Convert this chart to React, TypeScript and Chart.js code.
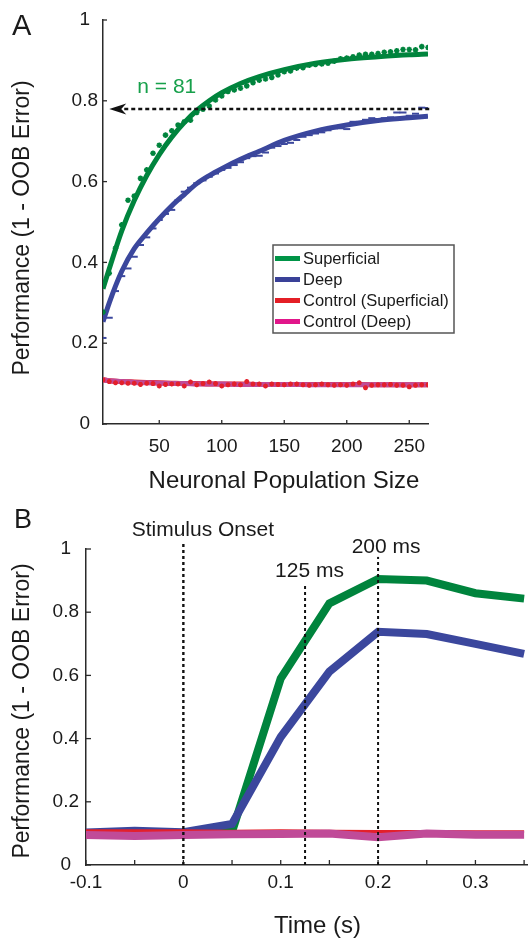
import React, { useEffect, useRef } from "react";
import { Chart, registerables } from "chart.js";

Chart.register(...registerables);

const FONT = '"Liberation Sans", Arial, Helvetica, sans-serif';

// ---------- Panel A data ----------
const populationSizes = [
  5, 10, 15, 20, 25, 30, 35, 40, 45, 50, 55, 60, 65, 70, 75, 80, 85, 90, 95, 100,
  105, 110, 115, 120, 125, 130, 135, 140, 145, 150, 155, 160, 165, 170, 175, 180,
  185, 190, 195, 200, 205, 210, 215, 220, 225, 230, 235, 240, 245, 250, 255, 260, 265,
];
const superficialAccuracy = [
  0.277, 0.373, 0.435, 0.493, 0.554, 0.564, 0.608, 0.629, 0.67, 0.69, 0.715, 0.726,
  0.74, 0.748, 0.752, 0.771, 0.779, 0.787, 0.802, 0.812, 0.823, 0.827, 0.831, 0.837,
  0.845, 0.851, 0.854, 0.858, 0.864, 0.872, 0.874, 0.881, 0.882, 0.888, 0.89, 0.891,
  0.893, 0.898, 0.904, 0.906, 0.909, 0.913, 0.915, 0.915, 0.917, 0.92, 0.921, 0.924,
  0.927, 0.927, 0.926, 0.934, 0.932,
];
const deepAccuracy = [
  0.213, 0.263, 0.329, 0.366, 0.385, 0.414, 0.443, 0.462, 0.484, 0.505, 0.52, 0.53,
  0.554, 0.575, 0.585, 0.596, 0.603, 0.612, 0.62, 0.629, 0.634, 0.641, 0.648, 0.658,
  0.663, 0.664, 0.672, 0.684, 0.688, 0.693, 0.696, 0.703, 0.711, 0.715, 0.719, 0.722,
  0.727, 0.732, 0.732, 0.73, 0.748, 0.748, 0.753, 0.757, 0.755, 0.757, 0.759, 0.771,
  0.771, 0.763, 0.768, 0.783, 0.782,
];
const controlSuperficialAccuracy = [
  0.109, 0.105, 0.102, 0.102, 0.101, 0.101, 0.098, 0.101, 0.1, 0.094, 0.098, 0.099,
  0.099, 0.094, 0.104, 0.097, 0.1, 0.104, 0.1, 0.094, 0.097, 0.099, 0.097, 0.105,
  0.099, 0.099, 0.094, 0.099, 0.098, 0.097, 0.099, 0.099, 0.097, 0.096, 0.097, 0.099,
  0.097, 0.096, 0.097, 0.096, 0.099, 0.102, 0.09, 0.096, 0.097, 0.097, 0.098, 0.096,
  0.096, 0.092, 0.096, 0.097, 0.097,
];
const fitSizes = [5, 10, 20, 30, 40, 50, 60, 70, 80, 90, 100, 115, 130, 150, 175, 200, 225, 250, 265];
const superficialFit = [
  0.335, 0.384, 0.478, 0.553, 0.615, 0.667, 0.71, 0.746, 0.776, 0.8, 0.82, 0.843, 0.86,
  0.877, 0.893, 0.903, 0.909, 0.914, 0.916,
];
const deepFit = [
  0.253, 0.3, 0.378, 0.434, 0.473, 0.508, 0.54, 0.568, 0.595, 0.615, 0.632, 0.655, 0.675,
  0.702, 0.725, 0.74, 0.751, 0.758, 0.762,
];
const controlSuperficialFit = [
  0.11, 0.107, 0.105, 0.104, 0.103, 0.102, 0.101, 0.1, 0.1, 0.099, 0.099, 0.099, 0.098,
  0.098, 0.098, 0.098, 0.097, 0.097, 0.097,
];
const controlDeepFit = [
  0.109, 0.107, 0.105, 0.103, 0.102, 0.101, 0.1, 0.1, 0.099, 0.099, 0.099, 0.098, 0.098,
  0.098, 0.097, 0.097, 0.097, 0.097, 0.097,
];
const sizeTicks = [50, 100, 150, 200, 250];
const performanceTicks = [0, 0.2, 0.4, 0.6, 0.8, 1];
const legendLabels = ["Superficial", "Deep", "Control (Superficial)", "Control (Deep)"];
const arrowLevel = 0.78;
const arrowFrom = 266;
const arrowTo = 10;
const nLabel = "n = 81";

// ---------- Panel B data ----------
const timePoints = [-0.1, -0.05, 0, 0.05, 0.1, 0.15, 0.2, 0.25, 0.3, 0.35];
const superficialTime = [0.1, 0.1, 0.1, 0.105, 0.59, 0.828, 0.905, 0.9, 0.86, 0.843];
const deepTime = [0.103, 0.108, 0.104, 0.13, 0.405, 0.612, 0.738, 0.731, 0.7, 0.668];
const controlSuperficialTime = [0.108, 0.108, 0.108, 0.107, 0.108, 0.107, 0.106, 0.106, 0.105, 0.105];
const controlDeepTime = [0.095, 0.092, 0.095, 0.097, 0.098, 0.1, 0.088, 0.1, 0.096, 0.096];
const timeLabelTicks = [-0.1, 0, 0.1, 0.2, 0.3];
const timeMinorTicks = [-0.1, -0.05, 0, 0.05, 0.1, 0.15, 0.2, 0.25, 0.3, 0.35];
const eventTimes = [0, 0.125, 0.2];
const eventTops = [1.02, 0.89, 0.975];
const eventLabels = ["Stimulus Onset", "125 ms", "200 ms"];

// ---------- styles ----------
const GREEN = "#00843d";
const BLUE = "#3b479d";
const RED = "#e3202b";
const PURPLE = "#c04b98";
const legendColors = ["#009447", "#3a4198", "#e41f26", "#e1168a"];
const N_GREEN = "#17a04b";
const AXIS = "#2a2a2a";

const pts = (xs: number[], ys: number[]) => xs.map((x, i) => ({ x, y: ys[i] }));

const inwardTicks = {
  id: "inwardTicks",
  afterDraw(chart: any, _a: any, opts: any) {
    const { ctx, chartArea, scales } = chart;
    ctx.save();
    ctx.strokeStyle = AXIS;
    ctx.lineWidth = 1.3;
    for (const v of opts.x) {
      const px = scales.x.getPixelForValue(v);
      ctx.beginPath();
      ctx.moveTo(px, chartArea.bottom);
      ctx.lineTo(px, chartArea.bottom - opts.len);
      ctx.stroke();
    }
    for (const v of opts.y) {
      const py = scales.y.getPixelForValue(v);
      ctx.beginPath();
      ctx.moveTo(chartArea.left, py);
      ctx.lineTo(chartArea.left + opts.len, py);
      ctx.stroke();
    }
    ctx.restore();
  },
};

const axisTitles = {
  id: "axisTitles",
  afterDraw(chart: any, _a: any, opts: any) {
    const { ctx } = chart;
    ctx.save();
    ctx.fillStyle = "#1a1a1a";
    ctx.textAlign = "center";
    ctx.textBaseline = "middle";
    ctx.font = `${opts.xSize}px ${FONT}`;
    ctx.fillText(opts.xText, opts.xPos[0], opts.xPos[1]);
    ctx.save();
    ctx.translate(opts.yPos[0], opts.yPos[1]);
    ctx.rotate(-Math.PI / 2);
    ctx.font = `${opts.ySize}px ${FONT}`;
    ctx.fillText(opts.yText, 0, 0);
    ctx.restore();
    ctx.textAlign = "left";
    ctx.textBaseline = "alphabetic";
    ctx.font = `${opts.letterSize}px ${FONT}`;
    ctx.fillText(opts.letter, opts.letterPos[0], opts.letterPos[1]);
    ctx.restore();
  },
};

const panelAExtras = {
  id: "panelAExtras",
  afterDraw(chart: any) {
    const { ctx, scales } = chart;
    const { x, y } = scales;
    ctx.save();
    // dotted arrow
    const yy = y.getPixelForValue(arrowLevel);
    const x0 = x.getPixelForValue(arrowFrom);
    const x1 = x.getPixelForValue(arrowTo);
    ctx.strokeStyle = "#111";
    ctx.lineWidth = 2.5;
    ctx.setLineDash([4, 3]);
    ctx.beginPath();
    ctx.moveTo(x0, yy);
    ctx.lineTo(x1 + 12, yy);
    ctx.stroke();
    ctx.setLineDash([]);
    ctx.fillStyle = "#111";
    ctx.beginPath();
    ctx.moveTo(x1, yy);
    ctx.lineTo(x1 + 17, yy - 5.5);
    ctx.lineTo(x1 + 12, yy);
    ctx.lineTo(x1 + 17, yy + 5.5);
    ctx.closePath();
    ctx.fill();
    // n label
    ctx.fillStyle = N_GREEN;
    ctx.font = `21px ${FONT}`;
    ctx.textAlign = "center";
    ctx.textBaseline = "alphabetic";
    ctx.fillText(nLabel, x.getPixelForValue(56), y.getPixelForValue(0.82));
    // legend box
    const bx = 273, by = 245, bw = 181, bh = 88;
    ctx.fillStyle = "#fff";
    ctx.fillRect(bx, by, bw, bh);
    ctx.strokeStyle = "#555";
    ctx.lineWidth = 1.5;
    ctx.strokeRect(bx, by, bw, bh);
    ctx.font = `16.5px ${FONT}`;
    ctx.textAlign = "left";
    ctx.textBaseline = "middle";
    legendLabels.forEach((label, i) => {
      const ry = by + 13.5 + i * 21;
      ctx.strokeStyle = legendColors[i];
      ctx.lineWidth = 5;
      ctx.beginPath();
      ctx.moveTo(bx + 2, ry);
      ctx.lineTo(bx + 27, ry);
      ctx.stroke();
      ctx.fillStyle = "#1a1a1a";
      ctx.fillText(label, bx + 30, ry + 0.5);
    });
    ctx.restore();
  },
};

const panelBExtras = {
  id: "panelBExtras",
  afterDraw(chart: any) {
    const { ctx, scales, chartArea } = chart;
    const { x, y } = scales;
    const dx = [19.5, 4.5, 8];
    const gap = [6.5, 6.5, 4];
    ctx.save();
    eventTimes.forEach((t, i) => {
      const px = x.getPixelForValue(t);
      const top = y.getPixelForValue(eventTops[i]);
      ctx.strokeStyle = "#111";
      ctx.lineWidth = i === 0 ? 2.4 : 2;
      ctx.setLineDash([3, 3]);
      ctx.beginPath();
      ctx.moveTo(px, chartArea.bottom);
      ctx.lineTo(px, top);
      ctx.stroke();
      ctx.setLineDash([]);
      ctx.fillStyle = "#1a1a1a";
      ctx.font = `21px ${FONT}`;
      ctx.textAlign = "center";
      ctx.textBaseline = "alphabetic";
      ctx.fillText(eventLabels[i], px + dx[i], top - gap[i]);
    });
    ctx.restore();
  },
};

const tickFont = { family: FONT, size: 19 };

export default function App() {
  const refA = useRef<HTMLCanvasElement>(null);
  const refB = useRef<HTMLCanvasElement>(null);

  useEffect(() => {
    document.body.style.margin = "0";
    Chart.defaults.font.family = FONT;
    Chart.defaults.color = "#1a1a1a";

    const chartA = new Chart(refA.current as HTMLCanvasElement, {
      type: "line",
      data: {
        datasets: [
          { label: "Control (Superficial) data", data: pts(populationSizes, controlSuperficialAccuracy), showLine: false, pointStyle: "star", pointRadius: 2.5, borderColor: RED, borderWidth: 1.5, order: 1 },
          { label: "Superficial data", data: pts(populationSizes, superficialAccuracy), showLine: false, pointStyle: "star", pointRadius: 2.8, borderColor: GREEN, borderWidth: 1.6, order: 2 },
          { label: "Deep data", data: pts(populationSizes, deepAccuracy), showLine: false, pointStyle: "line", pointRadius: 3.5, borderColor: BLUE, borderWidth: 2, order: 3 },
          { label: legendLabels[3], data: pts(fitSizes, controlDeepFit), borderColor: PURPLE, borderWidth: 5, pointRadius: 0, cubicInterpolationMode: "monotone", order: 4 },
          { label: legendLabels[2], data: pts(fitSizes, controlSuperficialFit), borderColor: RED, borderWidth: 5, pointRadius: 0, cubicInterpolationMode: "monotone", order: 5 },
          { label: legendLabels[1], data: pts(fitSizes, deepFit), borderColor: BLUE, borderWidth: 5, pointRadius: 0, cubicInterpolationMode: "monotone", order: 6 },
          { label: legendLabels[0], data: pts(fitSizes, superficialFit), borderColor: GREEN, borderWidth: 5, pointRadius: 0, cubicInterpolationMode: "monotone", order: 7 },
        ],
      },
      options: {
        responsive: false,
        animation: false,
        layout: { padding: { top: 20, right: 100, left: 0, bottom: 0 } },
        plugins: {
          legend: { display: false },
          tooltip: { enabled: false },
          inwardTicks: { x: sizeTicks, y: performanceTicks, len: 4 },
          axisTitles: {
            xText: "Neuronal Population Size", xSize: 24, xPos: [284, 481.5],
            yText: "Performance (1 - OOB Error)", ySize: 23, yPos: [23, 228],
            letter: "A", letterSize: 29, letterPos: [12, 35],
          },
        } as any,
        scales: {
          x: {
            type: "linear", min: 5, max: 265,
            grid: { display: false, drawTicks: false },
            border: { display: true, color: AXIS, width: 1.5 },
            ticks: { font: tickFont, padding: 11, autoSkip: false, maxRotation: 0, callback: (v: any) => String(v) },
            afterBuildTicks: (s: any) => { s.ticks = sizeTicks.map((value) => ({ value })); },
            afterFit: (s: any) => { s.height = 76; },
          },
          y: {
            type: "linear", min: 0, max: 1,
            grid: { display: false, drawTicks: false },
            border: { display: true, color: AXIS, width: 1.5 },
            ticks: { font: tickFont, padding: 5, crossAlign: "center", callback: (v: any) => String(v) },
            afterBuildTicks: (s: any) => { s.ticks = performanceTicks.map((value) => ({ value })); },
            afterFit: (s: any) => { s.width = 103; },
          },
        },
      },
      plugins: [inwardTicks, axisTitles, panelAExtras],
    } as any);

    const chartB = new Chart(refB.current as HTMLCanvasElement, {
      type: "line",
      data: {
        datasets: [
          { label: legendLabels[3], data: pts(timePoints, controlDeepTime), borderColor: PURPLE, borderWidth: 8, pointRadius: 0, order: 1 },
          { label: legendLabels[2], data: pts(timePoints, controlSuperficialTime), borderColor: RED, borderWidth: 3, pointRadius: 0, order: 2 },
          { label: legendLabels[1], data: pts(timePoints, deepTime), borderColor: BLUE, borderWidth: 8, pointRadius: 0, order: 3 },
          { label: legendLabels[0], data: pts(timePoints, superficialTime), borderColor: GREEN, borderWidth: 8, pointRadius: 0, order: 4 },
        ],
      },
      options: {
        responsive: false,
        animation: false,
        layout: { padding: { top: 49, right: 0, left: 0, bottom: 0 } },
        plugins: {
          legend: { display: false },
          tooltip: { enabled: false },
          inwardTicks: { x: timeMinorTicks, y: performanceTicks, len: 5 },
          axisTitles: {
            xText: "Time (s)", xSize: 24, xPos: [317.5, 426.5],
            yText: "Performance (1 - OOB Error)", ySize: 23, yPos: [23, 211],
            letter: "B", letterSize: 27, letterPos: [14, 28],
          },
        } as any,
        scales: {
          x: {
            type: "linear", min: -0.1, max: 0.354,
            grid: { display: false, drawTicks: false },
            border: { display: true, color: AXIS, width: 1.5 },
            ticks: { font: tickFont, padding: 6, autoSkip: false, maxRotation: 0, callback: (v: any) => String(v) },
            afterBuildTicks: (s: any) => { s.ticks = timeLabelTicks.map((value) => ({ value })); },
            afterFit: (s: any) => { s.height = 74; },
          },
          y: {
            type: "linear", min: 0, max: 1,
            grid: { display: false, drawTicks: false },
            border: { display: true, color: AXIS, width: 1.5 },
            ticks: { font: tickFont, padding: 7, crossAlign: "center", callback: (v: any) => String(v) },
            afterBuildTicks: (s: any) => { s.ticks = performanceTicks.map((value) => ({ value })); },
            afterFit: (s: any) => { s.width = 86; },
          },
        },
      },
      plugins: [inwardTicks, axisTitles, panelBExtras],
    } as any);

    return () => {
      chartA.destroy();
      chartB.destroy();
    };
  }, []);

  return (
    <div style={{ width: 528, height: 939, position: "relative", background: "#fff" }}>
      <canvas ref={refA} width={528} height={500} style={{ display: "block", width: 528, height: 500 }} />
      <canvas ref={refB} width={528} height={439} style={{ display: "block", width: 528, height: 439 }} />
    </div>
  );
}
